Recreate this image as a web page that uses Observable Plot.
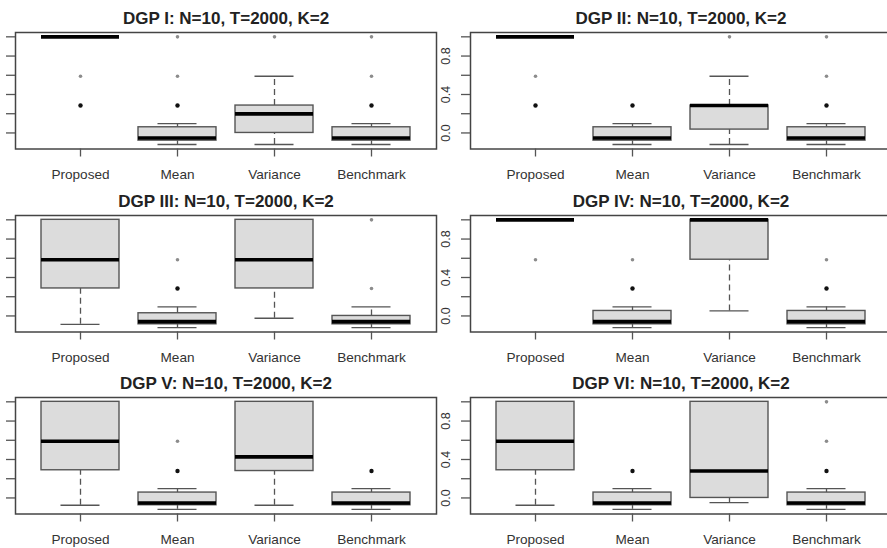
<!DOCTYPE html>
<html>
<head>
<meta charset="utf-8">
<script src="https://cdn.jsdelivr.net/npm/d3@7"></script>
<script src="https://cdn.jsdelivr.net/npm/@observablehq/plot@0.6"></script>
<style>
  html, body { margin: 0; padding: 0; background: #fff; }
  body { width: 887px; height: 548px; overflow: hidden; position: relative; font-family: "Liberation Sans", Arial, sans-serif; }
  .panel { position: absolute; }
  .panel svg { background: none !important; overflow: visible; max-width: none !important; }
</style>
</head>
<body>
<script>
// ---------- data ----------
const methods = ["Proposed", "Mean", "Variance", "Benchmark"];
const panelTitles = [
  "DGP I: N=10, T=2000, K=2",
  "DGP II: N=10, T=2000, K=2",
  "DGP III: N=10, T=2000, K=2",
  "DGP IV: N=10, T=2000, K=2",
  "DGP V: N=10, T=2000, K=2",
  "DGP VI: N=10, T=2000, K=2"
];
// one row per panel, columns in method order
const whiskerLow = [
  [1.0, -0.12, -0.12, -0.12],
  [1.0, -0.12, -0.12, -0.12],
  [-0.087, -0.122, -0.024, -0.122],
  [1.0, -0.122, 0.052, -0.122],
  [-0.076, -0.118, -0.076, -0.118],
  [-0.076, -0.118, -0.048, -0.118]
];
const q1 = [
  [1.0, -0.08, 0.0, -0.08],
  [1.0, -0.08, 0.035, -0.08],
  [0.286, -0.087, 0.286, -0.087],
  [1.0, -0.087, 0.585, -0.087],
  [0.288, -0.076, 0.28, -0.076],
  [0.288, -0.076, 0.0, -0.076]
];
const median = [
  [1.0, -0.052, 0.198, -0.052],
  [1.0, -0.052, 0.285, -0.052],
  [0.585, -0.059, 0.585, -0.059],
  [1.0, -0.059, 1.0, -0.059],
  [0.59, -0.052, 0.427, -0.052],
  [0.59, -0.052, 0.28, -0.052]
];
const q3 = [
  [1.0, 0.059, 0.285, 0.059],
  [1.0, 0.059, 0.285, 0.059],
  [1.0, 0.028, 1.0, 0.0],
  [1.0, 0.052, 1.0, 0.052],
  [1.0, 0.056, 1.0, 0.056],
  [1.0, 0.056, 1.0, 0.056]
];
const whiskerHigh = [
  [1.0, 0.097, 0.59, 0.097],
  [1.0, 0.097, 0.59, 0.097],
  [1.0, 0.094, 1.0, 0.094],
  [1.0, 0.094, 1.0, 0.094],
  [1.0, 0.097, 1.0, 0.097],
  [1.0, 0.097, 1.0, 0.097]
];
// outliers: [panel, method, value, overlapping points]
const outliers = [
  [0, "Proposed", 0.59, 1], [0, "Proposed", 0.286, 3],
  [0, "Mean", 1.0, 1], [0, "Mean", 0.59, 1], [0, "Mean", 0.286, 3],
  [0, "Variance", 1.0, 1],
  [0, "Benchmark", 1.0, 1], [0, "Benchmark", 0.59, 1], [0, "Benchmark", 0.286, 3],
  [1, "Proposed", 0.59, 1], [1, "Proposed", 0.286, 3],
  [1, "Mean", 0.286, 3],
  [1, "Variance", 1.0, 1],
  [1, "Benchmark", 1.0, 1], [1, "Benchmark", 0.59, 1], [1, "Benchmark", 0.286, 3],
  [2, "Mean", 0.585, 1], [2, "Mean", 0.286, 3],
  [2, "Benchmark", 1.0, 1], [2, "Benchmark", 0.286, 1],
  [3, "Proposed", 0.585, 1],
  [3, "Mean", 0.585, 1], [3, "Mean", 0.286, 3],
  [3, "Benchmark", 0.585, 1], [3, "Benchmark", 0.286, 3],
  [4, "Mean", 0.59, 1], [4, "Mean", 0.28, 3],
  [4, "Benchmark", 0.28, 3],
  [5, "Mean", 0.28, 3],
  [5, "Benchmark", 1.0, 1], [5, "Benchmark", 0.59, 1], [5, "Benchmark", 0.28, 3]
];
const yTicks = [0, 0.2, 0.4, 0.6, 0.8, 1.0];
const yLabels = [0, 0.4, 0.8];
const yDomain = [-0.167, 1.045];

// ---------- layout ----------
const frameW = 421, frameH = 116.5;
const mL = 40, mR = 2, mT = 32, mB = 34;
const colX = [15, 469.5];
const rowY = [32, 214.5, 397];

const ink = "#555";
const step = frameW / (4 - 0.2 + 2 * 0.26);
const bw = step * 0.8;
const capInset = bw / 4;

panelTitles.forEach((title, p) => {
  const stats = methods.map((m, i) => ({
    method: m,
    lo: whiskerLow[p][i], q1: q1[p][i], med: median[p][i], q3: q3[p][i], hi: whiskerHigh[p][i]
  }));
  const outs = outliers.filter(o => o[0] === p).map(o => ({method: o[1], value: o[2], n: o[3]}));
  const upper = stats.filter(d => d.hi > d.q3);
  const lower = stats.filter(d => d.lo < d.q1);
  // the left column's tick labels fall outside the visible page in the reference
  const labels = p % 2 === 1 ? yLabels : [];

  const chart = Plot.plot({
    width: mL + frameW + mR,
    height: mT + frameH + mB,
    marginLeft: mL, marginRight: mR, marginTop: mT, marginBottom: mB,
    style: {fontFamily: "Liberation Sans, Arial, sans-serif", background: "none", overflow: "visible"},
    x: {type: "band", domain: methods, paddingInner: 0.2, paddingOuter: 0.26, axis: null, label: null},
    y: {domain: yDomain, axis: null, label: null},
    marks: [
      Plot.ruleX(upper, {x: "method", y1: "q3", y2: "hi", stroke: ink, strokeWidth: 1.3, strokeDasharray: "6,4"}),
      Plot.ruleX(lower, {x: "method", y1: "lo", y2: "q1", stroke: ink, strokeWidth: 1.3, strokeDasharray: "6,4"}),
      Plot.tickY(upper, {x: "method", y: "hi", insetLeft: capInset, insetRight: capInset, stroke: ink, strokeWidth: 1.3}),
      Plot.tickY(lower, {x: "method", y: "lo", insetLeft: capInset, insetRight: capInset, stroke: ink, strokeWidth: 1.3}),
      Plot.rectY(stats, {x: "method", y1: "q1", y2: "q3", fill: "#dcdcdc", stroke: ink, strokeWidth: 1.4}),
      Plot.tickY(stats, {x: "method", y: "med", stroke: "#000", strokeWidth: 3.6}),
      Plot.dot(outs.filter(d => d.n === 1), {x: "method", y: "value", r: 1.8, fill: "#8c8c8c", stroke: "none"}),
      Plot.dot(outs.filter(d => d.n > 1), {x: "method", y: "value", r: 2.2, fill: "#111", stroke: "none"}),
      Plot.frame({stroke: "#444", strokeWidth: 1.5}),
      Plot.axisX({label: null, tickSize: 8, tickPadding: 12, fontSize: 13.6, stroke: ink, fill: "#333", strokeWidth: 1.3}),
      Plot.axisY({label: null, ticks: yTicks, tickSize: 9, tickFormat: () => "", stroke: ink, strokeWidth: 1.3}),
      Plot.text(labels, {y: d => d, text: d => d.toFixed(1), frameAnchor: "left", dx: -25, rotate: -90,
        textAnchor: "middle", lineAnchor: "middle", fontSize: 12.5, fill: "#333"}),
      Plot.text([title], {text: d => d, frameAnchor: "top", dy: -14, lineAnchor: "middle",
        fontWeight: "bold", fontSize: 17, fill: "#222"})
    ]
  });
  const div = document.createElement("div");
  div.className = "panel";
  div.style.left = (colX[p % 2] - mL) + "px";
  div.style.top = (rowY[Math.floor(p / 2)] - mT) + "px";
  div.appendChild(chart);
  document.body.appendChild(div);
});
</script>
</body>
</html>
